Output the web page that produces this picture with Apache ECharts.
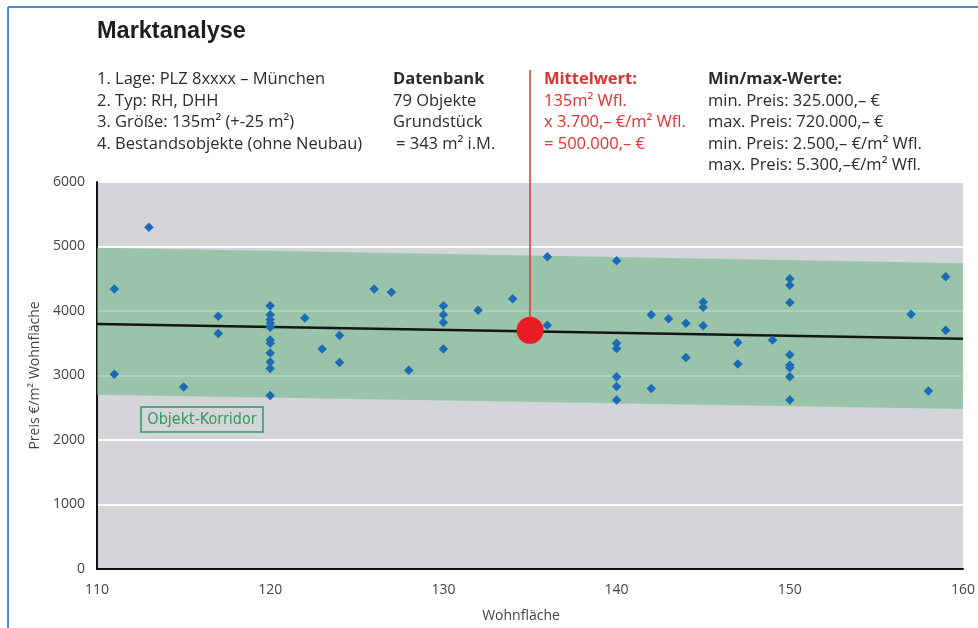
<!DOCTYPE html>
<html><head><meta charset="utf-8">
<script src="https://cdn.jsdelivr.net/npm/echarts@6/dist/echarts.min.js"></script>
<style>html,body{margin:0;padding:0;background:#fff}#c{width:978px;height:628px}</style>
</head><body><div id="c"></div>
<script>
const xMin = 110, xMax = 160, xStep = 10;
const yMin = 0, yMax = 6000, yStep = 1000;
const pointX = [113,111,111,115,117,117,
  120,120,120,120,120,120,120,120,120,120,120,
  122,123,124,124,126,127,128,130,130,130,130,132,134,136,136,
  140,140,140,140,140,140,142,142,143,144,144,145,145,145,147,147,149,
  150,150,150,150,150,150,150,150,157,158,159,159];
const pointY = [5300,4340,3020,2820,3920,3650,
  4080,3940,3870,3810,3750,3550,3500,3350,3210,3110,2690,
  3890,3410,3620,3200,4340,4290,3080,4080,3940,3820,3410,4010,4190,4840,3780,
  4780,3500,3420,2980,2830,2620,3940,2800,3880,3810,3280,4140,4060,3770,3510,3180,3550,
  4500,4400,4130,3320,3160,3120,2980,2620,3950,2760,4530,3700];
const trendX = [110,160];
const trendY = [3800,3570];
const bandX = [110,160];
const bandTop = [4980,4740];
const bandBottom = [2700,2480];
const meanX = [135];
const meanY = [3700];

const chart = echarts.init(document.getElementById('c'), null, {renderer:'canvas'});
const F = "'Open Sans', sans-serif";
const txt = '#2b2b2b', red = '#e4312f';
const FS = '16.5px ';

function t(x, y, s, opt) {
  return Object.assign({type:'text', left:x, top:y, style:Object.assign({text:s, fill:txt, font:FS + F}, opt||{})});
}
const L = [71, 92.5, 114, 135.5, 157];
const graphics = [
  {type:'line', shape:{x1:8, y1:7, x2:978, y2:7}, style:{stroke:'#4a8ccc', lineWidth:2}},
  {type:'line', shape:{x1:8, y1:7, x2:8, y2:628}, style:{stroke:'#4a8ccc', lineWidth:2}},
  t(97, 20, 'Marktanalyse', {font:'bold 23.5px "Liberation Sans", Arial, sans-serif', fill:'#1e1e1e'}),
  t(97, L[0], '1. Lage: PLZ 8xxxx – München'),
  t(97, L[1], '2. Typ: RH, DHH'),
  t(97, L[2], '3. Größe: 135m² (+-25 m²)'),
  t(97, L[3], '4. Bestandsobjekte (ohne Neubau)'),
  t(393, L[0], 'Datenbank', {font:'bold ' + FS + F}),
  t(393, L[1], '79 Objekte'),
  t(393, L[2], 'Grundstück'),
  t(396, L[3], '= 343 m² i.M.'),
  t(544, L[0], 'Mittelwert:', {font:'bold ' + FS + F, fill:red}),
  t(544, L[1], '135m² Wfl.', {fill:red}),
  t(544, L[2], 'x 3.700,– €/m² Wfl.', {fill:red}),
  t(544, L[3], '= 500.000,– €', {fill:red}),
  t(708, L[0], 'Min/max-Werte:', {font:'bold ' + FS + F}),
  t(708, L[1], 'min. Preis: 325.000,– €'),
  t(708, L[2], 'max. Preis: 720.000,– €'),
  t(708, L[3], 'min. Preis: 2.500,– €/m² Wfl.'),
  t(708, L[4], 'max. Preis: 5.300,–€/m² Wfl.'),
  {type:'rect', shape:{x:141, y:407, width:122, height:25}, style:{fill:'#d3d5d8', stroke:'#2f9a5c', lineWidth:1.5}, z:100},
  {type:'text', x:202, y:420, z:101, style:{text:'Objekt-Korridor', fill:'#2f9a5c', font:'16px "DejaVu Sans Condensed", "Liberation Sans Narrow", sans-serif', align:'center', verticalAlign:'middle'}}
];

chart.setOption({
  animation:false,
  backgroundColor:'#ffffff',
  grid:{left:97, right:15, top:182, bottom:59, show:true, backgroundColor:'#d3d5d8', borderWidth:0},
  xAxis:{type:'value', min:xMin, max:xMax, interval:xStep,
    name:'Wohnfläche', nameLocation:'middle', nameGap:40,
    nameTextStyle:{fontFamily:F, fontSize:14, color:'#444', padding:[0,18,0,0]},
    axisLine:{show:true, onZero:false, lineStyle:{color:'#111', width:2}},
    axisTick:{show:false}, splitLine:{show:false},
    axisLabel:{fontFamily:F, fontSize:14, color:'#444', margin:14}},
  yAxis:{type:'value', min:yMin, max:yMax, interval:yStep,
    name:'Preis €/m² Wohnfläche', nameLocation:'middle', nameGap:50,
    nameTextStyle:{fontFamily:F, fontSize:14, color:'#444'},
    axisLine:{show:true, lineStyle:{color:'#111', width:2}},
    axisTick:{show:false},
    splitLine:{show:true, lineStyle:{color:'#ffffff', width:2}},
    axisLabel:{fontFamily:F, fontSize:14, color:'#444', margin:12, formatter:function(v){return String(v);}}},
  series:[
    {type:'custom', z:2, silent:true,
      data:[0],
      renderItem:function(params, api){
        const pts = [];
        for (let i=0;i<bandX.length;i++) pts.push(api.coord([bandX[i], bandTop[i]]));
        for (let i=bandX.length-1;i>=0;i--) pts.push(api.coord([bandX[i], bandBottom[i]]));
        return {type:'polygon', shape:{points:pts}, style:{fill:'rgba(118,186,142,0.62)'}};
      }},
    {type:'line', z:3, symbol:'none', silent:true,
      data:trendX.map((x,i)=>[x,trendY[i]]),
      lineStyle:{color:'#151515', width:2.5}},
    {type:'scatter', z:4, symbol:'diamond', symbolSize:9.5, silent:true,
      data:pointX.map((x,i)=>[x,pointY[i]]),
      itemStyle:{color:'#1a6cb6', opacity:1}},
    {type:'custom', z:5, silent:true, clip:false,
      data:[0],
      renderItem:function(params, api){
        const p = api.coord([meanX[0], meanY[0]]);
        return {type:'line', shape:{x1:p[0], y1:70, x2:p[0], y2:p[1]}, style:{stroke:red, lineWidth:1.5}};
      }},
    {type:'scatter', z:6, symbol:'circle', symbolSize:27, silent:true,
      data:meanX.map((x,i)=>[x,meanY[i]]),
      itemStyle:{color:'#ec1c24', opacity:1}}
  ],
  graphic:graphics
});
</script></body></html>
